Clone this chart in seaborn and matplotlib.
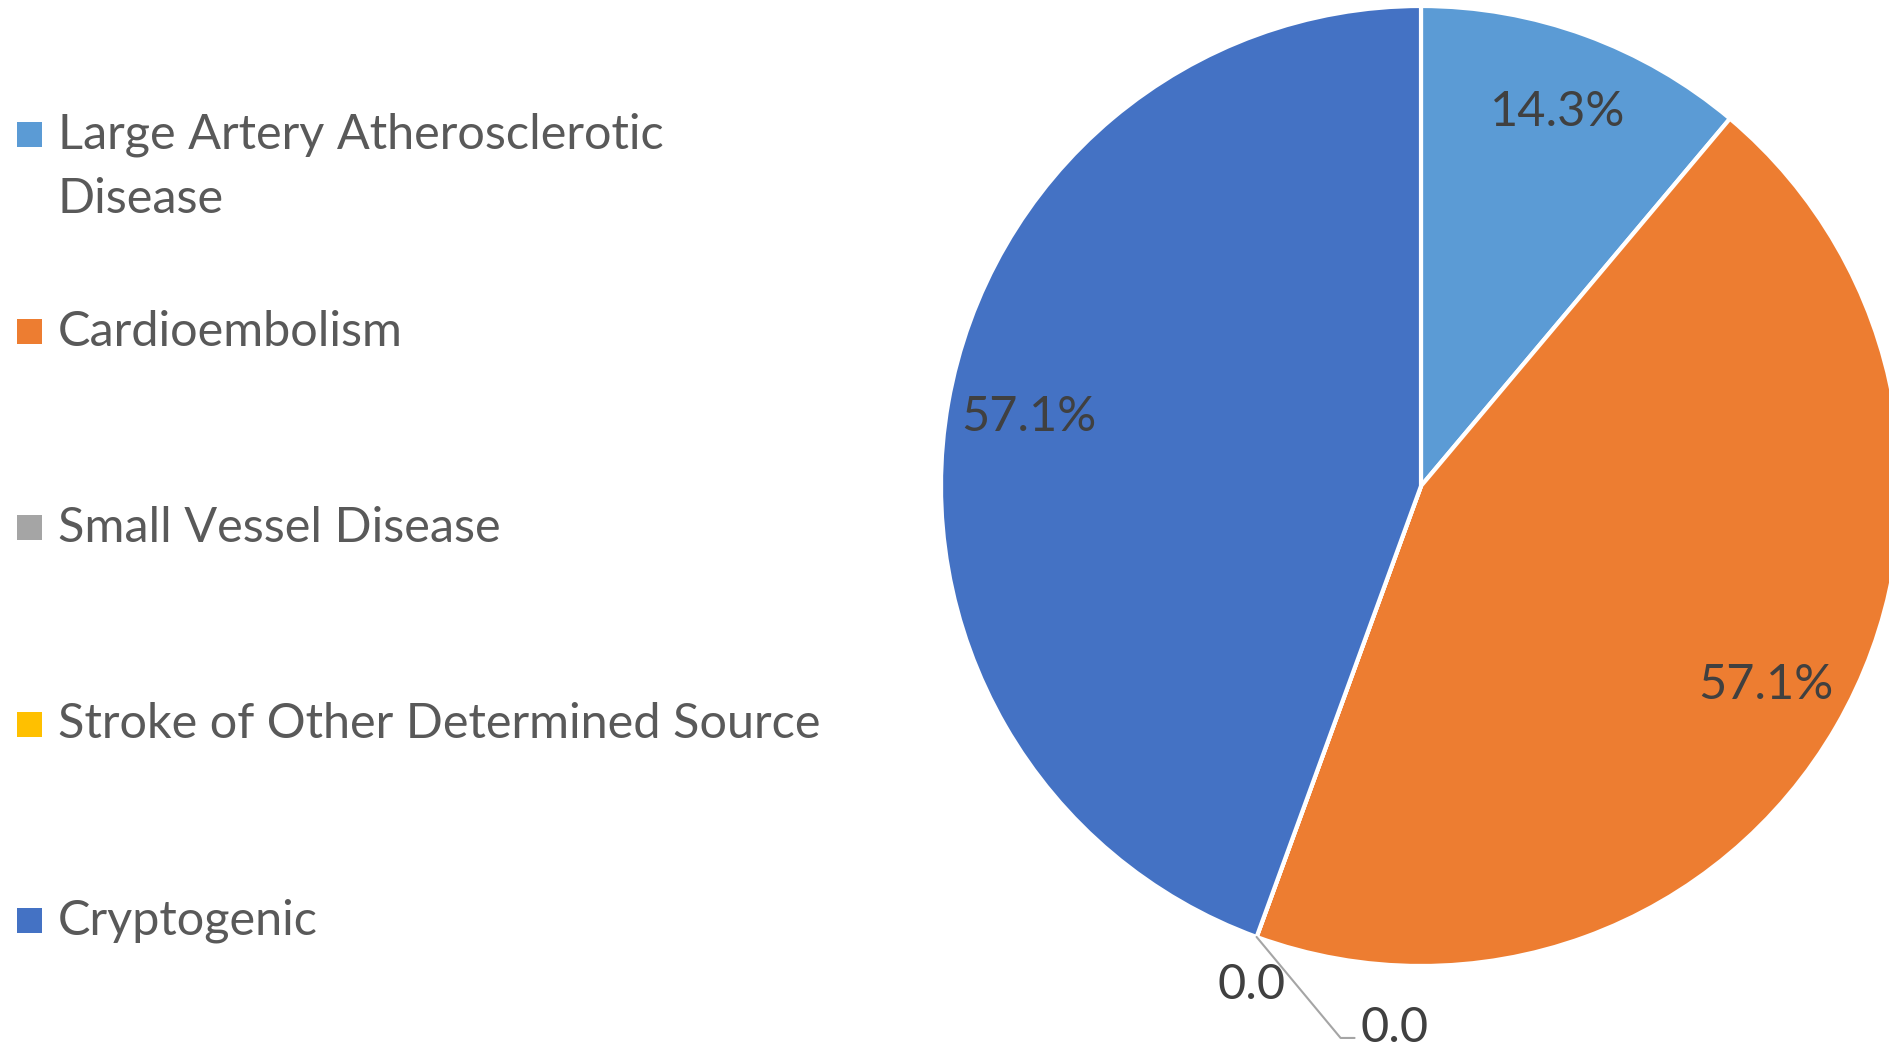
import numpy as np
import matplotlib
matplotlib.use("Agg")
import matplotlib.pyplot as plt
import seaborn as sns
from matplotlib.patches import Rectangle

categories = ["Large Artery Atherosclerotic\nDisease", "Cardioembolism",
              "Small Vessel Disease", "Stroke of Other Determined Source",
              "Cryptogenic"]
values = [14.3, 57.1, 0.0, 0.0, 57.1]
value_labels = ["14.3%", "57.1%", "0.0", "0.0", "57.1%"]
colors = ["#5B9BD5", "#ED7D31", "#A5A5A5", "#FFC000", "#4472C4"]

sns.set_theme(style="white")
plt.rcParams['font.family'] = ['Lato', 'DejaVu Sans']

W, H = 1889, 1050
fig = plt.figure(figsize=(W / 100, H / 100), dpi=100)
ax = fig.add_axes([0, 0, 1, 1])

cx, cy, R = 1421, H - 486, 480
wedges, _ = ax.pie(values, colors=colors, startangle=90, counterclock=False,
                   center=(cx, cy), radius=R,
                   wedgeprops=dict(edgecolor='white', linewidth=3))
ax.set_xlim(0, W)
ax.set_ylim(0, H)
ax.set_aspect('equal')
ax.axis('off')

txt_color = "#404040"
fs_lab = 35
for i, (w, lab) in enumerate(zip(wedges, value_labels)):
    ang = np.deg2rad((w.theta1 + w.theta2) / 2)
    if values[i] > 0:
        r = 0.83 * R
        ax.text(cx + r * np.cos(ang), cy + r * np.sin(ang), lab,
                ha='center', va='center', fontsize=fs_lab, color=txt_color)
    else:
        ex, ey = cx + R * np.cos(ang), cy + R * np.sin(ang)
        if i == 2:
            ax.text(ex - 5, ey - 48, lab, ha='center', va='center',
                    fontsize=fs_lab, color=txt_color)
        else:
            x2, y2 = ex + 84, ey - 101
            ax.plot([ex, x2, x2 + 14], [ey, y2, y2], color="#A5A5A5", lw=1.5)
            ax.text(x2 + 20, y2 + 10, lab, ha='left', va='center',
                    fontsize=fs_lab, color=txt_color)

# legend
leg_color = "#595959"
fs_leg = 35
y_first = H - 135
step = 196.5
for i, (cat, col) in enumerate(zip(categories, colors)):
    y = y_first - i * step
    ax.add_patch(Rectangle((17, y - 12), 25, 25, color=col, lw=0))
    ax.text(58, y - 32 if '\n' in cat else y, cat, ha='left', va='center',
            fontsize=fs_leg, color=leg_color, linespacing=1.55)

fig.savefig("out.png", dpi=100)
